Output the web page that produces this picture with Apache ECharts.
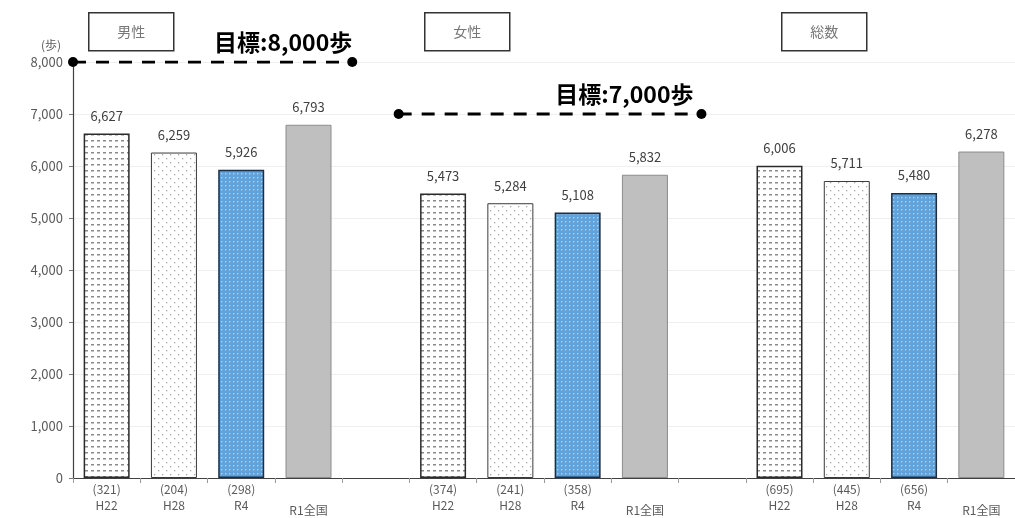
<!DOCTYPE html>
<html>
<head>
<meta charset="utf-8">
<script src="https://cdn.jsdelivr.net/npm/echarts@6/dist/echarts.min.js"></script>
<style>
  html, body { margin: 0; padding: 0; background: #fff; }
  #chart { width: 1015px; height: 518px; }
</style>
</head>
<body>
<div id="chart"></div>
<script>
// Average daily steps by survey year, for men, women and everyone
const groups = ['男性', '女性', '総数'];
const periods = ['H22', 'H28', 'R4', 'R1全国'];
const maleSteps = [6627, 6259, 5926, 6793];
const femaleSteps = [5473, 5284, 5108, 5832];
const totalSteps = [6006, 5711, 5480, 6278];
const maleCounts = ['321', '204', '298', null];
const femaleCounts = ['374', '241', '358', null];
const totalCounts = ['695', '445', '656', null];
const targets = [8000, 7000];            // 目標 for men, women
const yTicks = [0, 1000, 2000, 3000, 4000, 5000, 6000, 7000, 8000];

// Small tiled fills for the bars
function makeTile(size, bg, draw) {
  const c = document.createElement('canvas');
  c.width = size; c.height = size;
  const g = c.getContext('2d');
  g.fillStyle = bg; g.fillRect(0, 0, size, size);
  draw(g);
  return { image: c, repeat: 'repeat' };
}
const fillH22 = makeTile(6, '#ffffff', g => {
  g.fillStyle = '#8a8a8a'; g.fillRect(1, 2, 3, 1.5);
});
const fillH28 = makeTile(8, '#ffffff', g => {
  g.fillStyle = '#a8a8a8'; g.fillRect(2, 2, 1.3, 1.3); g.fillRect(6, 6, 1.3, 1.3);
});
const fillR4 = makeTile(4, '#60a2dc', g => {
  g.fillStyle = '#acd2f3'; g.fillRect(1, 1, 1.4, 1.4);
});
const fillAll = '#bfbfbf';

const styles = [
  { color: fillH22, borderColor: '#2b2b2b', borderWidth: 1.5 },
  { color: fillH28, borderColor: '#3a3a3a', borderWidth: 1 },
  { color: fillR4, borderColor: '#1d2f45', borderWidth: 1.5 },
  { color: fillAll, borderColor: '#8c8c8c', borderWidth: 1 }
];

// 14 slots: 4 bars per group with an empty slot between groups
const categories = [];
const barData = [];
[[maleSteps, maleCounts], [femaleSteps, femaleCounts], [totalSteps, totalCounts]].forEach(([vals, counts], gi) => {
  if (gi > 0) { categories.push(''); barData.push(null); }
  vals.forEach((v, i) => {
    categories.push(counts[i] ? '{c|(' + counts[i] + ')}\n{p|' + periods[i] + '}' : '{c| }\n{r|' + periods[i] + '}');
    barData.push({ value: v, itemStyle: styles[i] });
  });
});

const fmt = v => v.toLocaleString('en-US');

const chart = echarts.init(document.getElementById('chart'), null, { renderer: 'canvas' });
const cjk = '"Noto Sans CJK JP", "Noto Sans", sans-serif';

function targetLine(value, x0, x1, labelOffset) {
  return {
    type: 'line',
    xAxisIndex: 1,
    data: [[x0, value], [x1, value, true]],
    symbol: 'circle',
    symbolSize: 10,
    itemStyle: { color: '#000' },
    lineStyle: { color: '#000', width: 3, type: [13, 10] },
    z: 5,
    silent: true,
    label: {
      show: true,
      position: 'top',
      align: 'right',
      distance: 3,
      offset: labelOffset,
      fontFamily: cjk,
      fontWeight: 'bold',
      fontSize: 23,
      color: '#000',
      formatter: p => (p.data[2] ? '目標:' + fmt(value) + '歩' : '')
    }
  };
}

chart.setOption({
  animation: false,
  backgroundColor: '#fff',
  textStyle: { fontFamily: cjk },
  grid: { left: 73, top: 62, width: 952, height: 416, containLabel: false },
  xAxis: [
    {
      type: 'category',
      data: categories,
      axisLine: { lineStyle: { color: '#404040', width: 1.2 } },
      axisTick: { show: true, interval: 0, length: 5, lineStyle: { color: '#9a9a9a' } },
      axisLabel: {
        interval: 0,
        margin: 3,
        color: '#5a5a5a',
        rich: {
          c: { fontSize: 12, lineHeight: 16, color: '#5a5a5a' },
          p: { fontSize: 12, lineHeight: 16, color: '#5a5a5a' },
          r: { fontSize: 12, lineHeight: 19, color: '#5a5a5a', verticalAlign: 'bottom' }
        }
      },
      splitLine: { show: false }
    },
    { type: 'value', min: 0, max: 14, show: false }
  ],
  yAxis: {
    type: 'value',
    min: yTicks[0],
    max: yTicks[yTicks.length - 1],
    interval: 1000,
    name: '(歩)',
    nameLocation: 'end',
    nameGap: 11,
    nameTextStyle: { color: '#5a5a5a', fontSize: 12, align: 'right', padding: [0, 12, 0, 0] },
    axisLine: { show: true, lineStyle: { color: '#404040', width: 1.2 } },
    axisTick: { show: true, length: 4, lineStyle: { color: '#7a7a7a' } },
    axisLabel: { color: '#5a5a5a', fontSize: 13, margin: 10, formatter: v => fmt(v) },
    splitLine: { show: true, lineStyle: { color: '#efefef', width: 1 } }
  },
  series: [
    {
      type: 'bar',
      data: barData,
      barWidth: 46,
      label: {
        show: true,
        position: 'top',
        distance: 11,
        color: '#404040',
        fontSize: 13,
        formatter: p => fmt(p.value)
      }
    },
    targetLine(targets[0], 0, 4.15, [0, 0]),
    targetLine(targets[1], 4.84, 9.34, [-8, 0])
  ],
  graphic: groups.map((g, i) => ({
    type: 'group',
    left: [88, 424, 781][i],
    top: 12,
    children: [
      { type: 'rect', shape: { x: 0, y: 0, width: 85, height: 38 }, style: { fill: '#fff', stroke: '#333', lineWidth: 1.5 } },
      { type: 'text', x: 42.5, y: 19, style: { text: g, fill: '#777', font: '14px ' + cjk, align: 'center', verticalAlign: 'middle' } }
    ]
  }))
});
</script>
</body>
</html>
